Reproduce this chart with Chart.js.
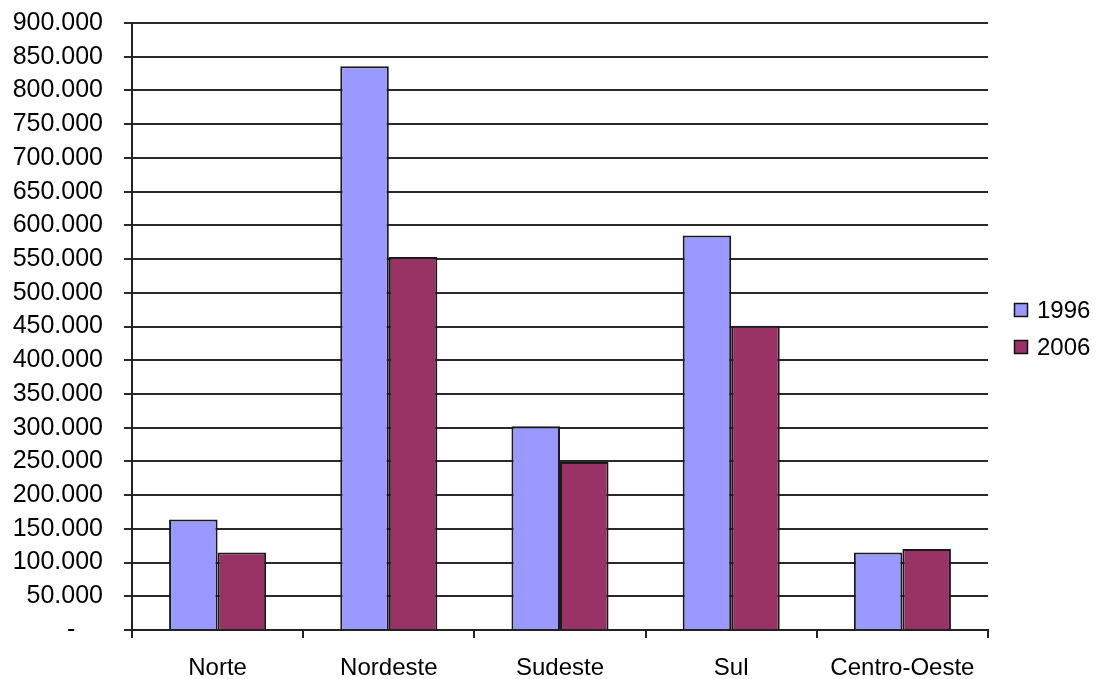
<!DOCTYPE html>
<html>
<head>
<meta charset="utf-8">
<script src="https://cdn.jsdelivr.net/npm/chart.js@4/dist/chart.umd.min.js"></script>
<style>
  html, body { margin: 0; padding: 0; background: #fff; }
  #wrap { width: 1096px; height: 679px; }
</style>
</head>
<body>
<div id="wrap"><canvas id="myChart" width="1096" height="679"></canvas></div>
<script>
var regioes = ['Norte', 'Nordeste', 'Sudeste', 'Sul', 'Centro-Oeste'];
var anos = ['1996', '2006'];
var valores1996 = [164000, 836000, 302000, 585000, 115000];
var valores2006 = [115000, 553000, 249000, 451000, 120000];
var cores = ['#9999ff', '#993366'];

var fonte = 'Liberation Sans, Arial, sans-serif';

function milhar(v) {
    if (v === 0) return '-    ';
    return String(v).replace(/\B(?=(\d{3})+(?!\d))/g, '.');
}

// sem folga extra nos eixos, a area do grafico fica so com o padding do layout
function semFolga(s) {
    s.paddingTop = 0;
    s.paddingBottom = 0;
    s.paddingLeft = 0;
    s.paddingRight = 0;
}

/* legenda desenhada a direita do grafico */
var legenda = {
    id: 'legenda',
    afterDraw: function (chart) {
        var c = chart.ctx;
        c.save();
        c.font = '24px ' + fonte;
        c.textBaseline = 'middle';
        chart.data.datasets.forEach(function (ds, i) {
            var y = 310 + i * 37;
            c.fillStyle = ds.backgroundColor;
            c.fillRect(1014, y - 7, 14, 14);
            c.strokeStyle = '#111';
            c.lineWidth = 1.5;
            c.strokeRect(1014.5, y - 6.5, 13, 13);
            c.fillStyle = '#000';
            c.fillText(ds.label, 1037, y + 1);
        });
        c.restore();
    }
};

var ctx = document.getElementById('myChart').getContext('2d');
var myChart = new Chart(ctx, {
    type: 'bar',
    data: {
        labels: regioes,
        datasets: [{
            label: anos[0],
            data: valores1996,
            backgroundColor: cores[0],
            borderColor: '#1a1a1a',
            borderWidth: 2
        }, {
            label: anos[1],
            data: valores2006,
            backgroundColor: cores[1],
            borderColor: '#1a1a1a',
            borderWidth: 2
        }]
    },
    options: {
        responsive: false,
        animation: false,
        layout: { padding: { top: 23, right: 108, left: 0, bottom: 0 } },
        plugins: {
            legend: { display: false },
            tooltip: { enabled: false }
        },
        datasets: {
            bar: { categoryPercentage: 0.567, barPercentage: 1 }
        },
        scales: {
            x: {
                grid: {
                    offset: true,
                    drawOnChartArea: false,
                    drawTicks: true,
                    tickLength: 8,
                    lineWidth: 2,
                    color: '#222'
                },
                border: { display: true, color: '#222', width: 2 },
                ticks: {
                    color: '#000',
                    padding: 16,
                    font: { family: fonte, size: 24 }
                },
                afterFit: function (s) { s.height = 49; semFolga(s); }
            },
            y: {
                min: 0,
                max: 900000,
                grid: {
                    color: '#2a2a2a',
                    lineWidth: 2,
                    tickLength: 8
                },
                border: { display: true, color: '#222', width: 2 },
                ticks: {
                    stepSize: 50000,
                    color: '#000',
                    padding: 21,
                    font: { family: fonte, size: 25 },
                    callback: function (v) { return milhar(v); }
                },
                afterFit: function (s) { s.width = 132; semFolga(s); }
            }
        }
    },
    plugins: [legenda]
});
</script>
</body>
</html>
